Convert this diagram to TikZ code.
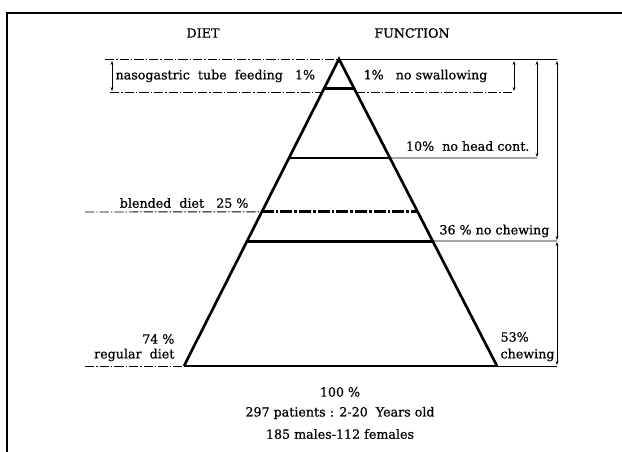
\documentclass[tikz,border=0pt]{standalone}
\usepackage{fontspec}
\setmainfont{DejaVu Serif}[FakeBold=0.6]
\usepackage{tikz}
\usetikzlibrary{arrows.meta,calc}

\begin{document}
\begin{tikzpicture}[x=0.75pt,y=-0.75pt,
	tier/.style={line width=2.2pt},
	side/.style={line width=2pt},
	guide/.style={line width=0.6pt},
	dashdot/.style={line width=0.7pt,dash pattern=on 7pt off 1.5pt on 1pt off 1.5pt},
	dim/.style={line width=0.6pt,{Stealth[length=3pt,width=2.2pt]}-{Stealth[length=3pt,width=2.2pt]}},
	lbl/.style={font=\fontsize{9.5}{11}\selectfont,inner sep=1pt}]
\useasboundingbox (0,0) rectangle (622,452);
% frame
\draw[line width=0.8pt] (7,452) -- (7,13) -- (622,13);
\node [lbl] (diet) at (203,33) {DIET};
\node [lbl] (function) at (412,33) {FUNCTION};
% pyramid
\coordinate (apex) at (339,59);
\coordinate (bl) at (184,366);
\coordinate (br) at (497,366);
\foreach \f/\n in {0.095/t1,0.3225/t2,0.498/t3,0.593/t4} {
	\coordinate (\n l) at ($(apex)!\f!(bl)$);
	\coordinate (\n r) at ($(apex)!\f!(br)$);
}
\draw[side,line join=miter] (bl) -- (apex) -- (br);
\draw[tier] (bl) -- (br);
\draw[tier] (t1l) -- (t1r);
\draw[tier] (t2l) -- (t2r);
\draw[tier] (t4l) -- (t4r);
\draw[tier,dash pattern=on 9pt off 1.5pt on 2pt off 1.5pt] (t3l) -- (t3r);
% guides on the left
\coordinate (g1) at (105,59);
\coordinate (g2) at (110,92);
\coordinate (g3) at (322,92);
\coordinate (g4) at (85,212);
\coordinate (g5) at (85,366);
\draw[dashdot] (g1) -- (apex);
\draw[dashdot] (g2) -- (g3);
\draw[dashdot] (g4) -- (t3l);
\draw[dashdot] (g5) -- (bl);
\coordinate (a1) at (112,61);
\coordinate (a2) at (112,91);
\draw[dim] (a1) -- (a2);
% guides on the right
\coordinate (r1) at (557,59);
\coordinate (r2) at (356,92);
\coordinate (r3) at (514,92);
\coordinate (r4) at (537,158);
\coordinate (r5) at (557,241);
\coordinate (r6) at (557,366);
\draw[guide] (apex) -- (r1);
\draw[dashdot] (r2) -- (r3);
\draw[guide] (t2r) -- (r4);
\draw[guide] (t4r) -- (r5);
\draw[guide] (br) -- (r6);
\coordinate (b1) at (514,61);
\coordinate (b2) at (514,91);
\coordinate (b3) at (537,61);
\coordinate (b4) at (537,157);
\coordinate (b5) at (557,61);
\coordinate (b6) at (557,240);
\coordinate (b7) at (557,242);
\coordinate (b8) at (557,365);
\draw[dim] (b1) -- (b2);
\draw[dim] (b3) -- (b4);
\draw[dim] (b5) -- (b6);
\draw[dim] (b7) -- (b8);
% labels
\node [lbl,anchor=west] (tube) at (114,76) {nasogastric\ \ tube\ \ feeding\ \ \ 1\%};
\node [lbl,anchor=west] (noswal) at (362,76) {1\%\ \ \ no swallowing};
\node [lbl,anchor=east] (nohead) at (531,146) {10\%\ \ no head cont.};
\node [lbl,anchor=east] (blend) at (250,203) {blended\ \ diet\ \ \ 25 \%};
\node [lbl,anchor=east] (nochew) at (551,231) {36 \% no chewing};
\node [lbl,anchor=east] (reg) at (176,339) {74 \%};
\node [lbl,anchor=east] (regdiet) at (176,355) {regular\ \ diet};
\node [lbl,anchor=west] (chew) at (499,337) {53\%};
\node [lbl,anchor=west] (chewing) at (499,355) {chewing};
\node [lbl] (total) at (340,392) {100 \%};
\node [lbl] (patients) at (340,413) {297 patients : 2-20\ \ Years old};
\node [lbl] (sex) at (340,434) {185 males-112 females};
\end{tikzpicture}
\end{document}
